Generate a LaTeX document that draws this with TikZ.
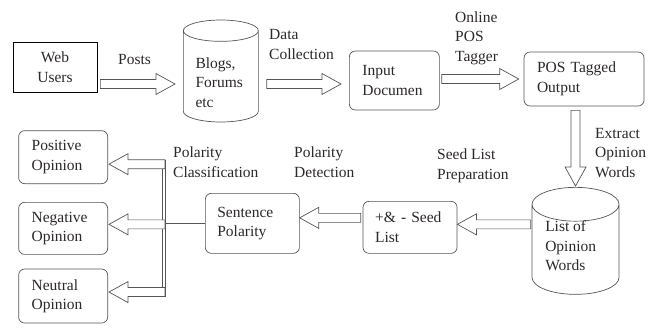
\documentclass[tikz,border=0pt]{standalone}
\usepackage{fontspec}
\setmainfont{Liberation Serif}
\usetikzlibrary{shapes,positioning,calc}
\definecolor{edgegray}{RGB}{85,85,85}
\definecolor{inkgray}{RGB}{45,40,40}
\tikzset{
  every node/.style={font=\fontsize{15.5}{19.5}\selectfont, text=inkgray},
  %
  plainbox/.style={
    rectangle, draw=black, line width=0.7pt, fill=white, align=center
  },
  %
  roundbox/.style={
    rectangle, rounded corners=6pt, draw=edgegray, line width=0.7pt, fill=white,
    align=left, inner xsep=12pt
  },
  %
  store/.style={
    cylinder, shape border rotate=90, draw=edgegray, line width=0.7pt, fill=white,
    anchor=shape center
  },
  %
  lbl/.style={
    align=left, inner sep=0pt, anchor=west
  },
  %
  arrowline/.style={
    draw=edgegray, line width=0.7pt, fill=white, line join=miter
  },
  %
  busline/.style={
    draw=edgegray, line width=0.7pt
  }
}
\newcommand{\hollowarrow}[2]{%
  \coordinate (hb) at ($(#2)!19pt!(#1)$);
  \draw[arrowline] ($(#1)!4.5pt!90:(#2)$) -- ($(hb)!4.5pt!90:(#2)$) -- ($(hb)!10.5pt!90:(#2)$) -- (#2)
    -- ($(hb)!10.5pt!-90:(#2)$) -- ($(hb)!4.5pt!-90:(#2)$) -- ($(#1)!4.5pt!-90:(#2)$) -- cycle;
}

\begin{document}
\begin{tikzpicture}[x=1pt, y=-1pt]
\useasboundingbox (0,0) rectangle (662,327);

\node (web) [plainbox, minimum width=84pt, minimum height=50pt] at (55,67) {Web\\Users};
\node (blogs) [store, minimum width=75pt, minimum height=102pt, text width=51pt, aspect=0.37] at ($(web.east)+(123.5,4)$) {};
\node (blogstext) [lbl] at ($(blogs.shape center)+(-25.5,11.5)$) {Blogs,\\Forums\\etc};
\node (input) [roundbox, minimum width=90pt, minimum height=59pt, text width=64pt] at ($(blogs.shape center)+(173.5,9.5)$) {Input\\Documen};
\node (postag) [roundbox, minimum width=120pt, minimum height=54pt, text width=94pt, inner xsep=13pt, right=84pt of input, yshift=1.5pt] {POS Tagged\\Output};
\node (opwords) [store, minimum width=87pt, minimum height=107pt, text width=61pt, aspect=0.5] at ($(postag.south)+(-8.5,134.5)$) {};
\node (opwordstext) [lbl] at ($(opwords.shape center)+(-30.5,5)$) {List of\\Opinion\\Words};
\node (seedlist) [roundbox, minimum width=94pt, minimum height=52pt, text width=70pt] at ($(opwords.shape center)+(-165.5,-13.5)$) {+\& - Seed\\List};
\node (sentence) [roundbox, minimum width=94pt, minimum height=60pt, text width=70pt, left=63pt of seedlist, yshift=4pt] {Sentence\\Polarity};
\node (negative) [roundbox, minimum width=89pt, minimum height=52pt, text width=63pt, inner xsep=13pt, left=97pt of sentence, yshift=-5pt] {Negative\\Opinion};
\node (positive) [roundbox, minimum width=89pt, minimum height=53pt, text width=63pt, inner xsep=13pt, above=18pt of negative] {Positive\\Opinion};
\node (neutral) [roundbox, minimum width=89pt, minimum height=54pt, text width=63pt, inner xsep=13pt, below=14pt of negative] {Neutral\\Opinion};

\node (lposts) [lbl] at (118,59) {Posts};
\node (ldata) [lbl] at (269,44.5) {Data\\Collection};
\node (ltagger) [lbl] at (455,38) {Online\\POS\\Tagger};
\node (lextract) [lbl] at (595,153) {Extract\\Opinion\\Words};
\node (lseed) [lbl] at (437,166) {Seed List\\Preparation};
\node (ldetect) [lbl] at (294,162) {Polarity\\Detection};
\node (lclass) [lbl] at (173,162) {Polarity\\Classification};

% upper row
\coordinate (postsA) at ($(web.east)+(3,17)$);
\coordinate (postsB) at ($(postsA -| blogs.west)+(-8,0)$);
\hollowarrow{postsA}{postsB}
\coordinate (dataA) at ($(postsA -| blogs.east)+(8,0)$);
\coordinate (dataB) at ($(dataA -| input.west)+(-8,0)$);
\hollowarrow{dataA}{dataB}
\coordinate (taggerA) at ($(input.east)+(2,-1.5)$);
\coordinate (taggerB) at ($(taggerA -| postag.west)+(-5,0)$);
\hollowarrow{taggerA}{taggerB}
\coordinate (extractA) at ($(postag.south -| opwords.north)+(0,4)$);
\coordinate (extractB) at ($(opwords.north)+(0,-1)$);
\hollowarrow{extractA}{extractB}

% lower row
\coordinate (seedA) at ($(opwords.shape center -| opwords.west)+(-1,-16.5)$);
\coordinate (seedB) at (seedA -| seedlist.east);
\hollowarrow{seedA}{seedB}
\coordinate (detectA) at ($(seedlist.west)+(-2,-9.5)$);
\coordinate (detectB) at (detectA -| sentence.east);
\hollowarrow{detectA}{detectB}

% classification bus
\coordinate (bus) at ($(sentence.west)+(-40,0)$);
\coordinate (posA) at ($(bus |- positive.east)+(0,7)$);
\coordinate (posB) at ($(posA -| positive.east)+(1,0)$);
\coordinate (negA) at ($(bus |- negative.east)+(0,-4)$);
\coordinate (negB) at ($(negA -| negative.east)+(1,0)$);
\coordinate (neuA) at ($(bus |- neutral.east)+(0,-4)$);
\coordinate (neuB) at ($(neuA -| neutral.east)+(1,0)$);
\hollowarrow{posA}{posB}
\hollowarrow{negA}{negB}
\hollowarrow{neuA}{neuB}
\draw[busline] ($(posA)+(0,-4.5)$) -- ($(neuA)+(0,4.5)$);
\draw[busline] ($(posA)+(-3,4.5)$) -- ($(negA)+(-3,-4.5)$);
\draw[busline] ($(negA)+(-3,4.5)$) -- ($(neuA)+(-3,-4.5)$);
\draw[busline] (sentence.west) -- (sentence.west -| bus);

\end{tikzpicture}
\end{document}
